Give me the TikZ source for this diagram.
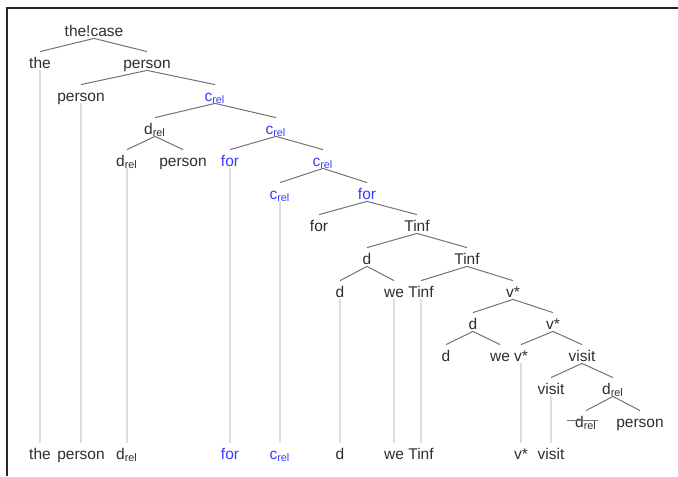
\documentclass[tikz,border=0pt]{standalone}
\usepackage{fontspec}
\setmainfont{Liberation Sans}

\definecolor{labelgray}{HTML}{2E2E2E}
\definecolor{relblue}{HTML}{3A3AFF}
\definecolor{edgegray}{HTML}{737373}
\definecolor{tracegray}{HTML}{DEDEDE}

\newcommand{\relcat}[1]{#1\textsubscript{rel}}

\tikzset{
  lab/.style={font=\fontsize{7.75}{9}\selectfont, text=labelgray,
    text height=7.9pt, text depth=0.5pt, inner sep=0.3pt},
  blab/.style={lab, text=relblue},
  edge/.style={edgegray, line width=0.5pt},
  trace/.style={tracegray, line width=0.75pt}
}

\begin{document}
\begin{tikzpicture}[x=0.5pt,y=-0.5pt]
\useasboundingbox (0,0) rectangle (678,476);

% Frame (top and left only)
\draw[line width=0.75pt, black!85] (7,476) -- (7,8) -- (678,8);

% Tree nodes
\node[lab]  (root)    at (94,29)  {the!case};
\node[lab]  (the)     at (40,61)  {the};
\node[lab]  (person)  at (147,61) {person};
\node[lab]  (personA) at (81,94)  {person};
\node[blab] (crelA)   at (215,94) {\relcat{c}};
\node[lab]  (drelA)   at (155,127) {\relcat{d}};
\node[blab] (crelB)   at (276,127) {\relcat{c}};
\node[lab]  (drelB)   at (127,159) {\relcat{d}};
\node[lab]  (personB) at (183,159) {person};
\node[blab] (forA)    at (230,159) {for};
\node[blab] (crelC)   at (323,159) {\relcat{c}};
\node[blab] (crelD)   at (280,192) {\relcat{c}};
\node[blab] (forB)    at (367,192) {for};
\node[lab]  (forC)    at (319,224) {for};
\node[lab]  (tinfA)   at (417,224) {Tinf};
\node[lab]  (dA)      at (367,257) {d};
\node[lab]  (tinfB)   at (467,257) {Tinf};
\node[lab]  (dB)      at (340,290) {d};
\node[lab]  (weA)     at (394,290) {we};
\node[lab]  (tinfC)   at (421,290) {Tinf};
\node[lab]  (vA)      at (513,290) {v*};
\node[lab]  (dC)      at (473,322) {d};
\node[lab]  (vB)      at (553,322) {v*};
\node[lab]  (dD)      at (446,354) {d};
\node[lab]  (weB)     at (500,354) {we};
\node[lab]  (vC)      at (521,354) {v*};
\node[lab]  (visitA)  at (582,354) {visit};
\node[lab]  (visitB)  at (551,387) {visit};
\node[lab]  (drelC)   at (613,387) {\relcat{d}};
\node[lab]  (drelD)   at (586,420) {\relcat{d}};
\node[lab]  (personC) at (640,420) {person};

% Yield (bottom row)
\node[lab]  (bthe)    at (40,452)  {the};
\node[lab]  (bperson) at (81,452)  {person};
\node[lab]  (bdrel)   at (127,452) {\relcat{d}};
\node[blab] (bfor)    at (230,452) {for};
\node[blab] (bcrel)   at (280,452) {\relcat{c}};
\node[lab]  (bd)      at (340,452) {d};
\node[lab]  (bwe)     at (394,452) {we};
\node[lab]  (btinf)   at (421,452) {Tinf};
\node[lab]  (bv)      at (521,452) {v*};
\node[lab]  (bvisit)  at (551,452) {visit};

% Branches
\draw[edge] (root.south) -- (the.north) (root.south) -- (person.north);
\draw[edge] (person.south) -- (personA.north) (person.south) -- (crelA.north);
\draw[edge] (crelA.south) -- (drelA.north) (crelA.south) -- (crelB.north);
\draw[edge] (drelA.south) -- (drelB.north) (drelA.south) -- (personB.north);
\draw[edge] (crelB.south) -- (forA.north) (crelB.south) -- (crelC.north);
\draw[edge] (crelC.south) -- (crelD.north) (crelC.south) -- (forB.north);
\draw[edge] (forB.south) -- (forC.north) (forB.south) -- (tinfA.north);
\draw[edge] (tinfA.south) -- (dA.north) (tinfA.south) -- (tinfB.north);
\draw[edge] (dA.south) -- (dB.north) (dA.south) -- (weA.north);
\draw[edge] (tinfB.south) -- (tinfC.north) (tinfB.south) -- (vA.north);
\draw[edge] (vA.south) -- (dC.north) (vA.south) -- (vB.north);
\draw[edge] (dC.south) -- (dD.north) (dC.south) -- (weB.north);
\draw[edge] (vB.south) -- (vC.north) (vB.south) -- (visitA.north);
\draw[edge] (visitA.south) -- (visitB.north) (visitA.south) -- (drelC.north);
\draw[edge] (drelC.south) -- (drelD.north) (drelC.south) -- (personC.north);

% Struck-out copy
\draw[edge] ([xshift=-3.5pt]drelD.west) -- (drelD.east);

% Leaves down to the yield
\draw[trace] (the.south) -- (bthe.north);
\draw[trace] (personA.south) -- (bperson.north);
\draw[trace] (drelB.south) -- (bdrel.north);
\draw[trace] (forA.south) -- (bfor.north);
\draw[trace] (crelD.south) -- (bcrel.north);
\draw[trace] (dB.south) -- (bd.north);
\draw[trace] (weA.south) -- (bwe.north);
\draw[trace] (tinfC.south) -- (btinf.north);
\draw[trace] (vC.south) -- (bv.north);
\draw[trace] (visitB.south) -- (bvisit.north);
\end{tikzpicture}
\end{document}
